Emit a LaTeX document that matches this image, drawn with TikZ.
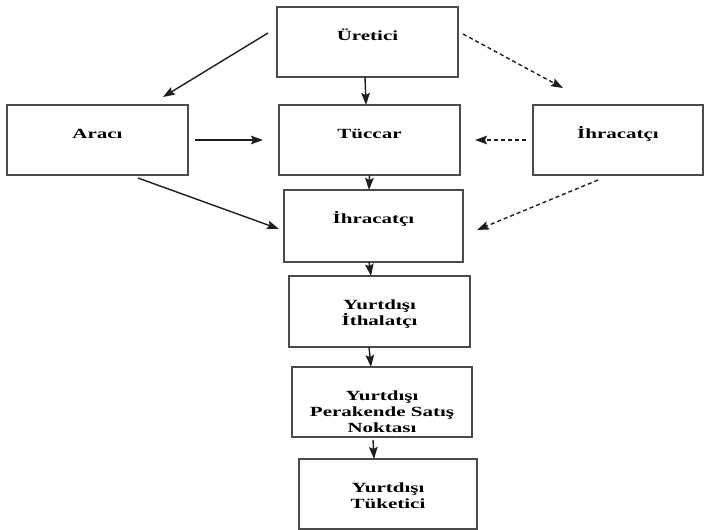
\documentclass[tikz,border=0pt]{standalone}
\usepackage{fontspec}
\setmainfont{Liberation Serif}[FakeStretch=1.5]
\usepackage{tikz}
\usetikzlibrary{arrows.meta, positioning, calc}
\definecolor{linecolor}{RGB}{30,30,30}
\definecolor{bordercolor}{RGB}{75,75,75}

\begin{document}
\begin{tikzpicture}[x=1pt, y=1pt,
        node distance=20pt,
        box/.style 2 args={rectangle, draw=bordercolor, line width=1.7pt, inner sep=0pt, outer sep=0pt,
            font=\fontsize{14}{16}\selectfont\bfseries,
            execute at begin node={\begin{minipage}[c][#2][t]{#1}\centering\rule{0pt}{33pt}},
            execute at end node={\end{minipage}}},
        arrow/.style={-{Stealth[length=12pt, width=8.5pt, inset=2pt]}, line width=1.4pt, linecolor},
        dashedarrow/.style={arrow, dash pattern=on 4pt off 3pt}
    ]
        \useasboundingbox (0,0) rectangle (704,-530);

        % Top row
        \node[box={181pt}{70pt}] (uretici) at (367.5,-42) {Üretici};

        % Middle row
        \node[box={181pt}{70pt}, below=28pt of uretici, xshift=2pt] (tuccar) {Tüccar};
        \node[box={181pt}{70pt}, left=91pt of tuccar] (araci) {Aracı};
        \node[box={170pt}{70pt}, right=73pt of tuccar] (ihracatcidis) {İhracatçı};

        % Main chain
        \node[box={179pt}{72pt}, below=15pt of tuccar, xshift=4pt] (ihracatci) {İhracatçı};
        \node[box={181pt}{71pt}, below=14pt of ihracatci, xshift=6pt] (ithalatci) {Yurtdışı\\İthalatçı};
        \node[box={180pt}{70pt}, below=20pt of ithalatci, xshift=2.5pt] (perakende) {Yurtdışı\\Perakende Satış\\Noktası};
        \node[box={178pt}{70pt}, below=22pt of perakende, xshift=6pt] (tuketici) {Yurtdışı\\Tüketici};

        % Arrows from the producer
        \draw[arrow] ([shift={(-9,9)}]uretici.west) -- ([shift={(-25,8)}]araci.north east);
        \draw[arrow] ([xshift=-2.5pt]uretici.south) -- ([xshift=-3.5pt]tuccar.north);
        \draw[dashedarrow] ([shift={(5,8)}]uretici.east) -- ([shift={(30,17)}]ihracatcidis.north west);

        % Middle row
        \draw[arrow] ([xshift=7pt]araci.east) -- ([xshift=-16pt]tuccar.west);
        \draw[dashedarrow] ([xshift=-7pt]ihracatcidis.west) -- ([xshift=15pt]tuccar.east);

        % Into the exporter
        \draw[arrow] (tuccar.south) -- ([xshift=-4.5pt]ihracatci.north);
        \draw[arrow] ([shift={(-50,-3)}]araci.south east) -- ([shift={(-5,-3)}]ihracatci.west);
        \draw[dashedarrow] ([shift={(-20,-5)}]ihracatcidis.south) -- ([shift={(14,-4)}]ihracatci.east);

        % Down the chain
        \draw[arrow] ([xshift=-4.5pt]ihracatci.south) -- ([xshift=-8.5pt]ithalatci.north);
        \draw[arrow] ([xshift=-10.5pt]ithalatci.south) -- ([xshift=-11pt]perakende.north);
        \draw[arrow] ([shift={(-9,-3)}]perakende.south) -- ([xshift=-14pt]tuketici.north);

    \end{tikzpicture}
\end{document}
